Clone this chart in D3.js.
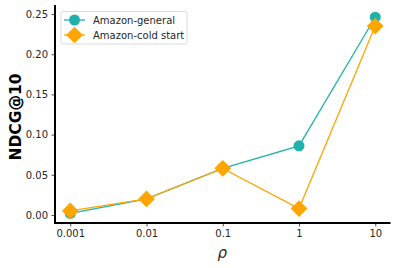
<!DOCTYPE html>
<html><head><meta charset="utf-8">
<script src="https://cdn.jsdelivr.net/npm/d3@7"></script>
<style>body{margin:0;background:#fff}svg{display:block;font-family:"DejaVu Sans",sans-serif}</style>
</head><body><svg id="c" width="397" height="268"></svg>
<script>
const categories = ["0.001","0.01","0.1","1","10"];
const generalValues = [0.002, 0.020, 0.058, 0.086, 0.246];
const coldValues = [0.005, 0.020, 0.058, 0.008, 0.235];
const yTicks = [0.00, 0.05, 0.10, 0.15, 0.20, 0.25];
const seriesNames = ["Amazon-general", "Amazon-cold start"];

const svg = d3.select("#c");
const L = 55, R = 390.5, T = 5, B = 223;
const x = d3.scaleLinear().domain([-0.2, 4.2]).range([L, R]);
const y = d3.scaleLinear().domain([0, 0.25]).range([215, 14]);

const gx = svg.append("g").attr("transform", `translate(0,${B})`)
  .call(d3.axisBottom(x).tickValues(d3.range(categories.length)).tickFormat(i => categories[i]).tickSize(3.5).tickPadding(3.5));
const gy = svg.append("g").attr("transform", `translate(${L},0)`)
  .call(d3.axisLeft(y).tickValues(yTicks).tickFormat(d3.format(".2f")).tickSize(3.5).tickPadding(3.5));
[gx, gy].forEach(g => {
  g.select(".domain").remove();
  g.selectAll("text").attr("font-size", 10).attr("fill", "#262626").attr("font-family", "DejaVu Sans");
  g.selectAll("line").attr("stroke", "#262626").attr("stroke-width", 0.8);
});
svg.append("line").attr("x1", L).attr("x2", L).attr("y1", T).attr("y2", B + 1).attr("stroke", "#000").attr("stroke-width", 2);
svg.append("line").attr("x1", L - 1).attr("x2", R).attr("y1", B).attr("y2", B).attr("stroke", "#000").attr("stroke-width", 2);

const cG = "#20b2aa", cC = "#ffa500";
const line = d3.line().x((d, i) => x(i)).y(d => y(d));
svg.append("path").datum(generalValues).attr("d", line).attr("fill", "none").attr("stroke", cG).attr("stroke-width", 1.3);
svg.append("g").selectAll("circle").data(generalValues).join("circle")
  .attr("cx", (d, i) => x(i)).attr("cy", d => y(d)).attr("r", 5.5).attr("fill", cG);
svg.append("path").datum(coldValues).attr("d", line).attr("fill", "none").attr("stroke", cC).attr("stroke-width", 1.3);
const dia = d3.symbol().type(d3.symbolSquare).size(140);
svg.append("g").selectAll("path").data(coldValues).join("path")
  .attr("d", dia).attr("fill", cC)
  .attr("transform", (d, i) => `translate(${x(i)},${y(d)}) rotate(45)`);

// legend
const lg = svg.append("g");
lg.append("rect").attr("x", 61).attr("y", 11.5).attr("width", 126).attr("height", 32.5).attr("rx", 2)
  .attr("fill", "#fff").attr("stroke", "#d0d0d0").attr("stroke-width", 0.8);
const items = [[seriesNames[0], cG, "c"], [seriesNames[1], cC, "d"]];
items.forEach((it, k) => {
  const yy = 20 + k * 15;
  lg.append("line").attr("x1", 64).attr("x2", 85).attr("y1", yy).attr("y2", yy).attr("stroke", it[1]).attr("stroke-width", 1.3);
  if (it[2] === "c") lg.append("circle").attr("cx", 74.5).attr("cy", yy).attr("r", 5.5).attr("fill", it[1]);
  else lg.append("path").attr("d", dia).attr("fill", it[1]).attr("transform", `translate(74.5,${yy}) rotate(45)`);
  lg.append("text").attr("x", 93).attr("y", yy + 3.5).attr("font-size", 10).attr("fill", "#262626").text(it[0]);
});

svg.append("text").attr("transform", `translate(21,117) rotate(-90)`).attr("text-anchor", "middle")
  .attr("font-size", 15.5).attr("font-weight", "bold").attr("fill", "#000").text("NDCG@10");
svg.append("text").attr("x", (L + R) / 2 - 0.5).attr("y", 258).attr("text-anchor", "middle")
  .attr("font-size", 15).attr("font-style", "italic").attr("fill", "#262626").text("ρ");
</script></body></html>
